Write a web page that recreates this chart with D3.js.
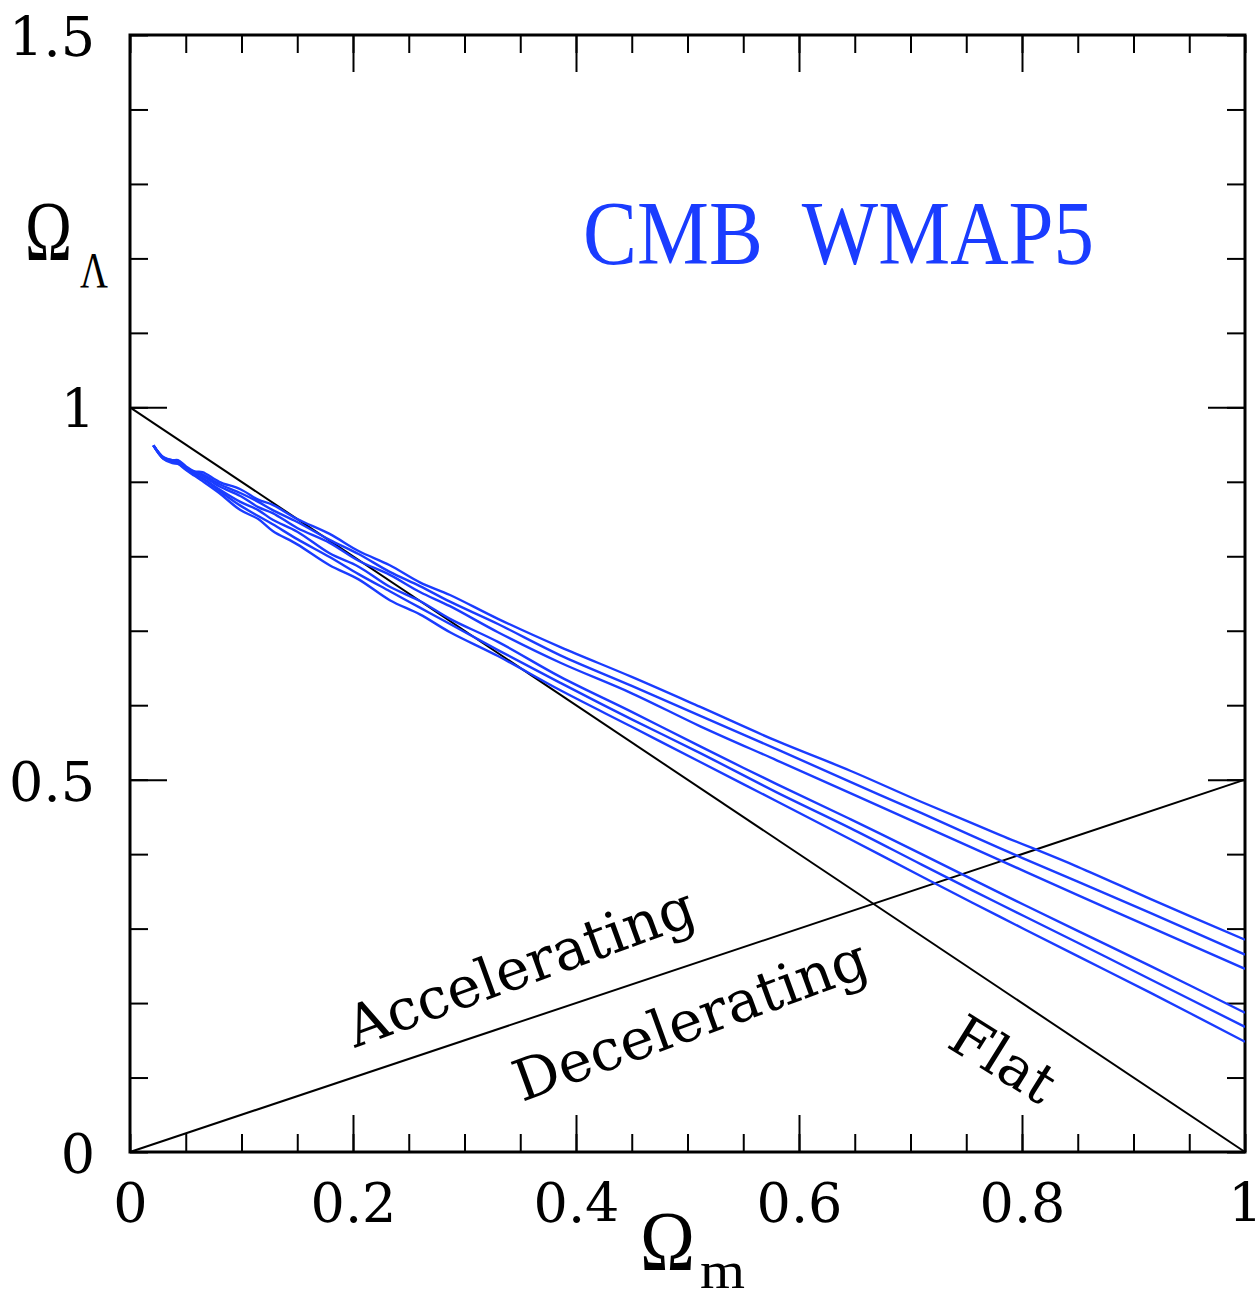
<!DOCTYPE html>
<html>
<head>
<meta charset="utf-8">
<script src="https://cdn.jsdelivr.net/npm/d3@7"></script>
<style>
  body { margin: 0; background: #fff; }
</style>
</head>
<body>
<div id="chart"></div>
<script>
// Omega_m grid along which the WMAP5 contour edges were read
const omegaM = [0.021, 0.030, 0.038, 0.043, 0.050, 0.058, 0.065, 0.080, 0.099, 0.115, 0.128, 0.150, 0.179, 0.205,
                0.233, 0.260, 0.287, 0.330, 0.386, 0.450, 0.511, 0.580, 0.646, 0.710, 0.780, 0.850, 0.915, 1.0];
// upper / lower edges of the three nested contours
const upperOuter = [0.949, 0.933, 0.929, 0.929, 0.921, 0.914, 0.913, 0.900, 0.890, 0.876, 0.869, 0.850, 0.830, 0.807,
                    0.788, 0.765, 0.748, 0.716, 0.678, 0.638, 0.598, 0.552, 0.512, 0.470, 0.426, 0.383, 0.340, 0.285];
const upperMid   = [0.949, 0.933, 0.929, 0.928, 0.920, 0.913, 0.910, 0.897, 0.885, 0.873, 0.862, 0.846, 0.822, 0.803,
                    0.779, 0.760, 0.739, 0.709, 0.667, 0.626, 0.586, 0.541, 0.497, 0.455, 0.408, 0.363, 0.321, 0.265];
const upperInner = [0.949, 0.932, 0.928, 0.927, 0.919, 0.912, 0.908, 0.894, 0.881, 0.866, 0.858, 0.838, 0.818, 0.794,
                    0.775, 0.752, 0.733, 0.698, 0.657, 0.616, 0.572, 0.526, 0.482, 0.439, 0.392, 0.345, 0.302, 0.246];
const lowerInner = [0.949, 0.932, 0.927, 0.926, 0.919, 0.910, 0.905, 0.890, 0.873, 0.862, 0.849, 0.833, 0.804, 0.786,
                    0.759, 0.740, 0.716, 0.685, 0.638, 0.591, 0.545, 0.494, 0.447, 0.400, 0.348, 0.297, 0.250, 0.187];
const lowerMid   = [0.949, 0.931, 0.927, 0.925, 0.917, 0.909, 0.904, 0.888, 0.868, 0.854, 0.843, 0.823, 0.799, 0.776,
                    0.753, 0.731, 0.709, 0.674, 0.630, 0.581, 0.536, 0.483, 0.435, 0.386, 0.333, 0.281, 0.232, 0.168];
const lowerOuter = [0.949, 0.931, 0.925, 0.924, 0.916, 0.908, 0.901, 0.885, 0.862, 0.850, 0.834, 0.816, 0.788, 0.769,
                    0.741, 0.722, 0.698, 0.666, 0.620, 0.571, 0.524, 0.471, 0.420, 0.370, 0.316, 0.263, 0.214, 0.148];

const flatLine = [[0, 1], [1, 0]];
const accelLine = [[0, 0], [1, 0.5]];

const xTicks = [0, 0.2, 0.4, 0.6, 0.8, 1];
const xTickLabels = ["0", "0.2", "0.4", "0.6", "0.8", "1"];
const yTicks = [0, 0.5, 1, 1.5];
const yTickLabels = ["0", "0.5", "1", "1.5"];
const xMinor = [0,0.05,0.1,0.15,0.2,0.25,0.3,0.35,0.4,0.45,0.5,0.55,0.6,0.65,0.7,0.75,0.8,0.85,0.9,0.95,1];
const yMinor = [0,0.1,0.2,0.3,0.4,0.5,0.6,0.7,0.8,0.9,1,1.1,1.2,1.3,1.4,1.5];

const margin = { top: 35, right: 12, bottom: 147, left: 130 };
const width = 1257 - margin.left - margin.right;
const height = 1299 - margin.top - margin.bottom;
const blue = "#1a3cff";
const serif = "DejaVu Serif";

const xScale = d3.scaleLinear().domain([0, 1]).range([0, width]);
const yScale = d3.scaleLinear().domain([0, 1.5]).range([height, 0]);

const svg = d3.select("#chart")
    .append("svg")
    .attr("width", 1257)
    .attr("height", 1299)
    .append("g")
    .attr("transform", `translate(${margin.left},${margin.top})`);

svg.append("defs").append("clipPath").attr("id", "plot")
    .append("rect").attr("width", width).attr("height", height);

// ticks, all pointing inwards
function ticks(axis, vals, size, tr) {
    const g = svg.append("g").attr("transform", tr)
        .call(axis.tickValues(vals).tickSize(-size).tickFormat(""));
    g.select(".domain").remove();
    g.selectAll(".tick line").attr("stroke", "#000").attr("stroke-width", 2);
}
ticks(d3.axisBottom(xScale), xMinor, 18, `translate(0,${height})`);
ticks(d3.axisBottom(xScale), [0.2, 0.4, 0.6, 0.8], 37, `translate(0,${height})`);
ticks(d3.axisTop(xScale), xMinor, 18, "translate(0,0)");
ticks(d3.axisTop(xScale), [0.2, 0.4, 0.6, 0.8], 37, "translate(0,0)");
ticks(d3.axisLeft(yScale), yMinor, 18, "translate(0,0)");
ticks(d3.axisLeft(yScale), [0.5, 1], 37, "translate(0,0)");
ticks(d3.axisRight(yScale), yMinor, 18, `translate(${width},0)`);
ticks(d3.axisRight(yScale), [0.5, 1], 37, `translate(${width},0)`);

// tick labels
const xLab = svg.append("g").attr("transform", `translate(0,${height})`)
    .call(d3.axisBottom(xScale).tickValues(xTicks).tickSize(0).tickPadding(32)
        .tickFormat((d, i) => xTickLabels[i]));
xLab.select(".domain").remove();
xLab.selectAll("text").attr("font-family", serif).attr("font-size", 54).attr("fill", "#000");

const yLab = svg.append("g")
    .call(d3.axisLeft(yScale).tickValues(yTicks).tickSize(0).tickPadding(35)
        .tickFormat((d, i) => yTickLabels[i]));
yLab.select(".domain").remove();
yLab.selectAll("text").attr("font-family", serif).attr("font-size", 54)
    .attr("dy", "0.38em").attr("fill", "#000");

// frame
svg.append("rect")
    .attr("width", width).attr("height", height)
    .attr("fill", "none").attr("stroke", "#000").attr("stroke-width", 3);

const line = d3.line().x(d => xScale(d[0])).y(d => yScale(d[1]));

svg.append("path").datum(flatLine).attr("d", line)
    .attr("fill", "none").attr("stroke", "#000").attr("stroke-width", 2);
svg.append("path").datum(accelLine).attr("d", line)
    .attr("fill", "none").attr("stroke", "#000").attr("stroke-width", 2);

// contours
const contourLine = d3.line()
    .x(d => xScale(d[0])).y(d => yScale(d[1]))
    .curve(d3.curveCatmullRom);
[upperOuter, upperMid, upperInner, lowerInner, lowerMid, lowerOuter].forEach(vals => {
    svg.append("path")
        .datum(omegaM.map((m, i) => [m, vals[i]]))
        .attr("clip-path", "url(#plot)")
        .attr("d", contourLine)
        .attr("fill", "none")
        .attr("stroke", blue)
        .attr("stroke-width", 2.4)
        .attr("stroke-linejoin", "round");
});

// annotations
svg.append("text")
    .attr("x", 583 - margin.left).attr("y", 264 - margin.top)
    .attr("font-family", "Liberation Serif")
    .attr("font-size", 90).attr("fill", blue)
    .attr("textLength", 511).attr("lengthAdjust", "spacingAndGlyphs")
    .style("white-space", "pre")
    .text("CMB  WMAP5");

svg.append("text")
    .attr("transform", `translate(${355 - margin.left},${1048 - margin.top}) rotate(-20)`)
    .attr("font-family", serif).attr("font-size", 57)
    .text("Accelerating");
svg.append("text")
    .attr("transform", `translate(${522 - margin.left},${1102 - margin.top}) rotate(-20)`)
    .attr("font-family", serif).attr("font-size", 57)
    .text("Decelerating");
svg.append("text")
    .attr("transform", `translate(${945 - margin.left},${1046 - margin.top}) rotate(32)`)
    .attr("font-family", serif).attr("font-size", 56)
    .text("Flat");

// axis titles
svg.append("text")
    .attr("x", 25 - margin.left).attr("y", 260 - margin.top)
    .attr("font-family", "Liberation Serif")
    .attr("font-size", 84).attr("textLength", 47).attr("lengthAdjust", "spacingAndGlyphs")
    .text("Ω");
svg.append("text")
    .attr("x", 80 - margin.left).attr("y", 287 - margin.top)
    .attr("font-family", "Liberation Serif")
    .attr("font-size", 50).attr("textLength", 28).attr("lengthAdjust", "spacingAndGlyphs")
    .text("Λ");
svg.append("text")
    .attr("x", 640 - margin.left).attr("y", 1270 - margin.top)
    .attr("font-family", "Liberation Serif")
    .attr("font-size", 84).attr("textLength", 55).attr("lengthAdjust", "spacingAndGlyphs")
    .text("Ω");
svg.append("text")
    .attr("x", 700 - margin.left).attr("y", 1288 - margin.top)
    .attr("font-family", "Liberation Serif")
    .attr("font-size", 52).attr("textLength", 45).attr("lengthAdjust", "spacingAndGlyphs")
    .text("m");
</script>
</body>
</html>
